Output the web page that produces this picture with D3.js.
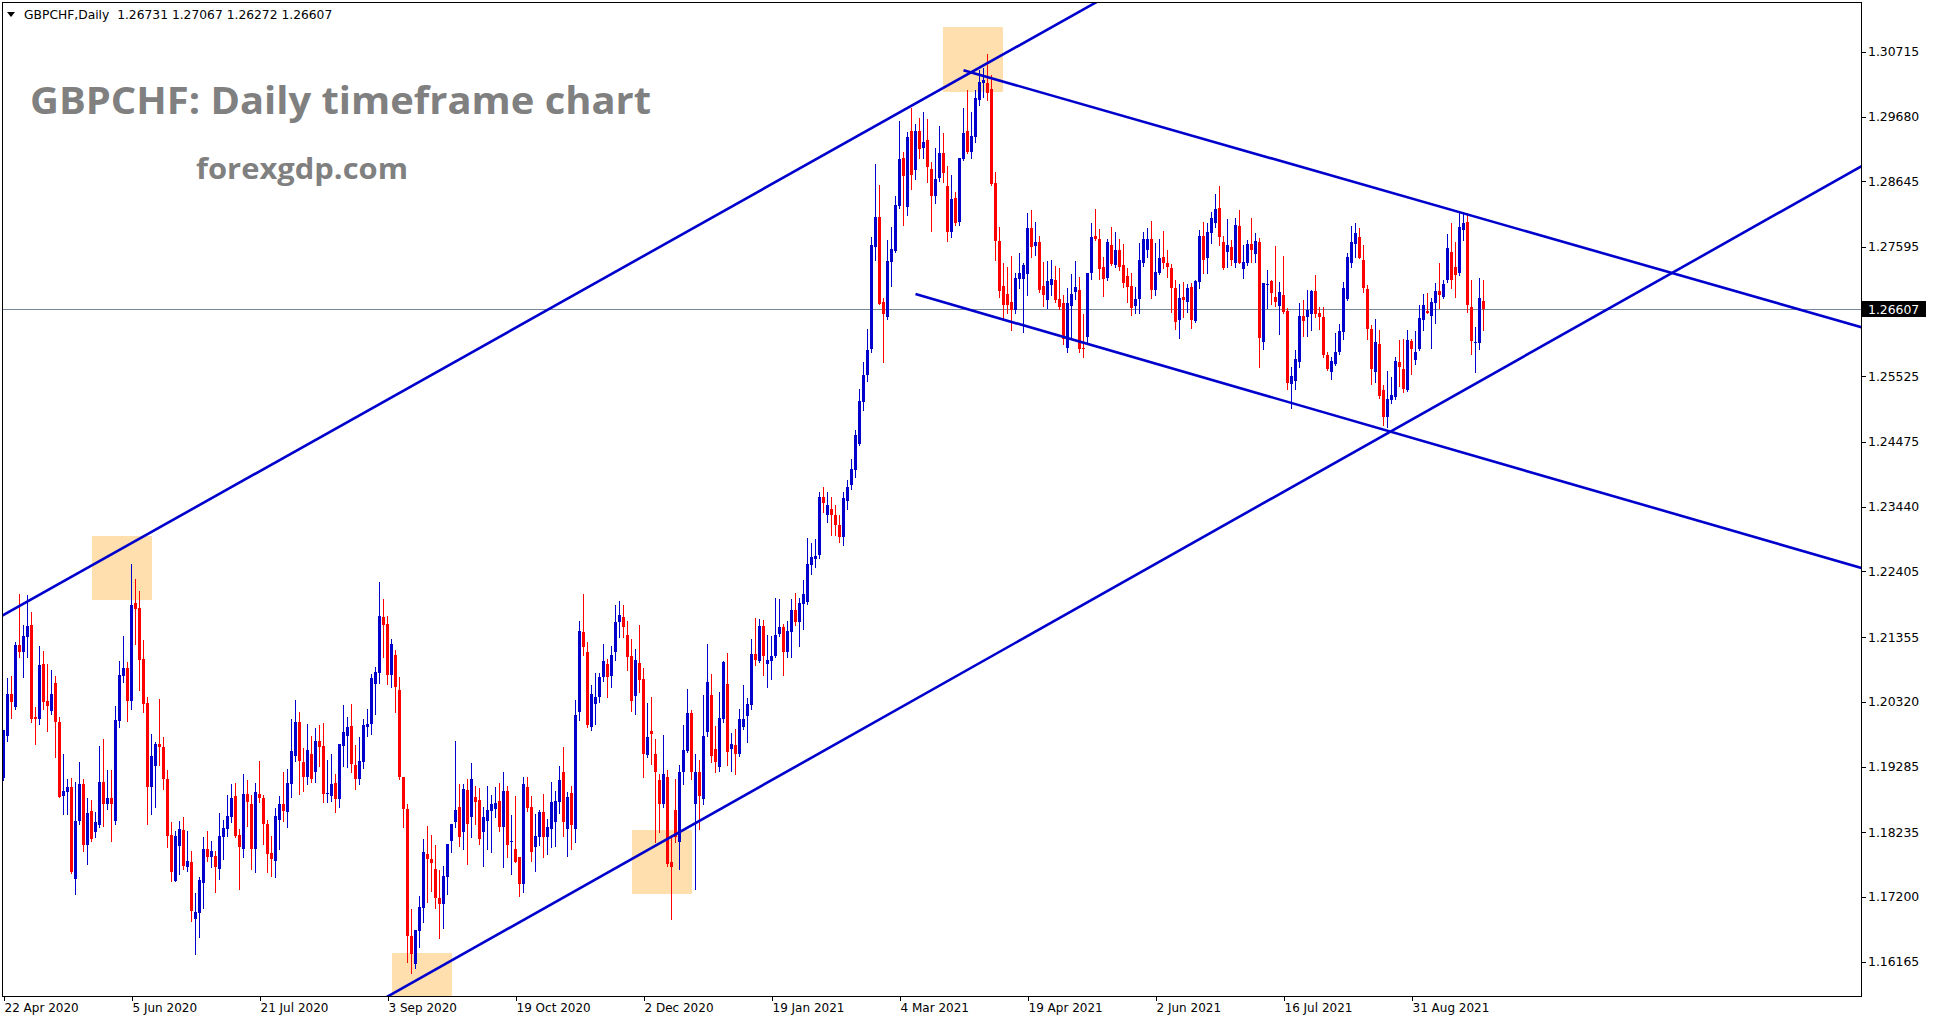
<!DOCTYPE html>
<html><head><meta charset="utf-8">
<script src="https://cdn.jsdelivr.net/npm/d3@7/dist/d3.min.js"></script>
<style>html,body{margin:0;padding:0;background:#fff;overflow:hidden}</style>
</head><body>
<svg id="chart" width="1933" height="1023"></svg>
<script>
// ---------- DATA ----------
const symbolHeader = "GBPCHF,Daily  1.26731 1.27067 1.26272 1.26607";
const titleText = "GBPCHF: Daily timeframe chart";
const siteText = "forexgdp.com";

const openP = [
1.1910,1.1978,1.2045,1.2024,1.2123,1.2112,1.2136,1.2155,1.2008,1.2004,
1.2093,1.2033,1.2018,1.2062,1.1999,1.1882,1.1887,1.1896,1.1748,1.1841,
1.1901,1.1803,1.1857,1.1823,1.1835,1.1904,1.1868,1.1878,1.1842,1.2002,
1.2074,1.2086,1.2034,1.2190,1.2182,1.2100,1.2030,1.1895,1.1930,1.1964,
1.1959,1.1908,1.1819,1.1746,1.1802,1.1827,1.1768,1.1776,1.1685,1.1695,
1.1743,1.1797,1.1783,1.1785,1.1765,1.1816,1.1829,1.1848,1.1881,1.1819,
1.1797,1.1885,1.1869,1.1797,1.1885,1.1878,1.1837,1.1790,1.1778,1.1843,
1.1869,1.1855,1.1901,1.1946,1.2000,1.1936,1.1911,1.1949,1.1920,1.1969,
1.1961,1.1884,1.1882,1.1902,1.1877,1.1962,1.1978,1.1993,1.1931,1.1909,
1.1935,1.1992,1.1997,1.2061,1.2078,1.2168,1.2156,1.2075,1.2107,1.2051,
1.1912,1.1861,1.1657,1.1612,1.1666,1.1703,1.1789,1.1781,1.1765,1.1718,
1.1708,1.1752,1.1810,1.1840,1.1864,1.1824,1.1891,1.1847,1.1880,1.1875,
1.1824,1.1842,1.1857,1.1860,1.1873,1.1831,1.1889,1.1807,1.1797,1.1783,
1.1740,1.1896,1.1864,1.1800,1.1815,1.1856,1.1816,1.1829,1.1840,1.1872,
1.1920,1.1829,1.1886,1.1829,1.2016,1.2143,1.2112,1.1992,1.2029,1.2039,
1.2071,1.2093,1.2074,1.2111,1.2159,1.2168,1.2139,1.2105,1.2042,1.2094,
1.2068,1.1947,1.1985,1.1949,1.1907,1.1868,1.1912,1.1775,1.1859,1.1807,
1.1919,1.1954,1.2014,1.1868,1.1920,1.1877,1.1984,1.2043,1.1957,1.1928,
1.2004,1.2060,1.1957,1.1963,1.1948,1.1992,1.2010,1.2027,1.2109,1.2098,
1.2153,1.2093,1.2098,1.2105,1.2141,1.2152,1.2111,1.2144,1.2179,1.2159,
1.2189,1.2192,1.2251,1.2260,1.2267,1.2360,1.2331,1.2340,1.2331,1.2315,
1.2295,1.2353,1.2379,1.2403,1.2444,1.2512,1.2555,1.2596,1.2760,1.2808,
1.2671,1.2648,1.2736,1.2753,1.2825,1.2901,1.2824,1.2945,1.2882,1.2945,
1.2917,1.2931,1.2884,1.2841,1.2870,1.2910,1.2857,1.2783,1.2837,1.2799,
1.2900,1.2945,1.2911,1.2936,1.2994,1.3021,1.3021,1.3012,1.2861,1.2769,
1.2697,1.2684,1.2671,1.2658,1.2708,1.2708,1.2716,1.2789,1.2761,1.2768,
1.2697,1.2675,1.2698,1.2707,1.2676,1.2669,1.2598,1.2665,1.2687,1.2691,
1.2598,1.2616,1.2717,1.2777,1.2772,1.2727,1.2709,1.2763,1.2731,1.2754,
1.2731,1.2713,1.2697,1.2665,1.2676,1.2734,1.2754,1.2772,1.2690,1.2718,
1.2743,1.2734,1.2726,1.2694,1.2643,1.2680,1.2672,1.2695,1.2641,1.2704,
1.2777,1.2742,1.2782,1.2797,1.2822,1.2768,1.2751,1.2760,1.2734,1.2793,
1.2724,1.2734,1.2764,1.2748,1.2767,1.2607,1.2698,1.2705,1.2680,1.2665,
1.2683,1.2657,1.2540,1.2545,1.2576,1.2649,1.2648,1.2652,1.2689,1.2653,
1.2647,1.2586,1.2559,1.2573,1.2591,1.2624,1.2676,1.2734,1.2764,1.2776,
1.2739,1.2692,1.2628,1.2560,1.2604,1.2530,1.2487,1.2515,1.2519,1.2576,
1.2565,1.2531,1.2609,1.2579,1.2596,1.2643,1.2657,1.2649,1.2670,1.2689,
1.2680,1.2706,1.2752,1.2728,1.2718,1.2787,1.2800,1.2664,1.2605,1.2605,
1.26731];

const highP = [
1.1987,1.2070,1.2073,1.2128,1.2205,1.2155,1.2203,1.2175,1.2024,1.2121,
1.2113,1.2092,1.2083,1.2073,1.2008,1.1949,1.1908,1.1910,1.1904,1.1936,
1.1908,1.1878,1.1875,1.1855,1.1961,1.1973,1.1923,1.1923,1.2025,1.2098,
1.2137,1.2096,1.2253,1.2229,1.2209,1.2131,1.2040,1.1980,1.1967,1.2037,
1.1975,1.1923,1.1840,1.1826,1.1841,1.1848,1.1826,1.1793,1.1727,1.1751,
1.1815,1.1825,1.1809,1.1793,1.1854,1.1843,1.1883,1.1901,1.1902,1.1829,
1.1917,1.1907,1.1883,1.1902,1.1937,1.1883,1.1843,1.1818,1.1862,1.1881,
1.1920,1.1925,1.2005,1.2035,1.2016,1.1958,1.1997,1.1978,1.1990,1.1995,
1.1998,1.1939,1.1948,1.1917,1.1965,1.2027,1.2008,1.2029,1.1963,1.1976,
1.2004,1.2020,1.2077,1.2088,1.2224,1.2196,1.2169,1.2132,1.2115,1.2072,
1.1912,1.1869,1.1700,1.1667,1.1721,1.1813,1.1833,1.1819,1.1803,1.1763,
1.1769,1.1805,1.1837,1.1969,1.1901,1.1901,1.1909,1.1934,1.1897,1.1894,
1.1864,1.1897,1.1883,1.1896,1.1902,1.1919,1.1897,1.1851,1.1881,1.1784,
1.1912,1.1912,1.1881,1.1853,1.1859,1.1885,1.1844,1.1904,1.1889,1.1929,
1.1960,1.1888,1.1897,1.2035,1.2161,1.2204,1.2128,1.2059,1.2078,1.2078,
1.2124,1.2100,1.2121,1.2187,1.2193,1.2187,1.2161,1.2132,1.2117,1.2155,
1.2086,1.2030,1.2040,1.1973,1.1917,1.1979,1.1923,1.1816,1.1909,1.1931,
1.1995,1.2053,1.2019,1.1949,1.1939,1.2043,1.2124,1.2077,1.1993,1.2048,
1.2097,1.2110,1.1982,1.1988,1.2020,1.2059,1.2038,1.2132,1.2166,1.2164,
1.2163,1.2139,1.2137,1.2198,1.2196,1.2156,1.2161,1.2197,1.2206,1.2198,
1.2227,1.2294,1.2286,1.2292,1.2368,1.2375,1.2368,1.2360,1.2346,1.2331,
1.2368,1.2387,1.2421,1.2467,1.2532,1.2576,1.2628,1.2776,1.2892,1.2858,
1.2677,1.2771,1.2791,1.2841,1.2961,1.2911,1.2943,1.2982,1.2956,1.2966,
1.2975,1.2964,1.2896,1.2918,1.2953,1.2942,1.2889,1.2875,1.2848,1.2901,
1.2982,1.3010,1.2975,1.3010,1.3042,1.3045,1.3068,1.3035,1.2880,1.2792,
1.2733,1.2728,1.2745,1.2717,1.2749,1.2733,1.2813,1.2819,1.2800,1.2777,
1.2736,1.2737,1.2738,1.2729,1.2726,1.2683,1.2694,1.2716,1.2737,1.2711,
1.2652,1.2717,1.2797,1.2820,1.2788,1.2744,1.2772,1.2792,1.2784,1.2772,
1.2764,1.2725,1.2718,1.2695,1.2766,1.2783,1.2789,1.2801,1.2766,1.2772,
1.2785,1.2754,1.2732,1.2707,1.2700,1.2703,1.2700,1.2702,1.2707,1.2787,
1.2799,1.2797,1.2816,1.2844,1.2857,1.2777,1.2804,1.2770,1.2805,1.2819,
1.2762,1.2771,1.2806,1.2781,1.2773,1.2701,1.2723,1.2707,1.2761,1.2704,
1.2745,1.2662,1.2568,1.2594,1.2669,1.2675,1.2691,1.2691,1.2714,1.2664,
1.2664,1.2591,1.2584,1.2621,1.2636,1.2704,1.2749,1.2793,1.2797,1.2789,
1.2763,1.2699,1.2635,1.2644,1.2627,1.2539,1.2561,1.2552,1.2584,1.2611,
1.2612,1.2626,1.2612,1.2625,1.2667,1.2684,1.2685,1.2677,1.2701,1.2733,
1.2707,1.2780,1.2797,1.2768,1.2813,1.2816,1.2813,1.2707,1.2632,1.2709,
1.27067];

const lowP = [
1.1907,1.1969,1.2006,1.2021,1.2104,1.2071,1.2104,1.1999,1.1964,1.1997,
1.2021,1.1986,1.2012,1.1943,1.1880,1.1853,1.1852,1.1758,1.1725,1.1837,
1.1794,1.1773,1.1810,1.1816,1.1832,1.1834,1.1860,1.1810,1.1836,1.1992,
1.2063,1.2002,1.2020,1.2125,1.2051,1.2016,1.1837,1.1852,1.1863,1.1931,
1.1892,1.1800,1.1746,1.1745,1.1757,1.1764,1.1762,1.1682,1.1629,1.1656,
1.1703,1.1778,1.1768,1.1728,1.1749,1.1781,1.1818,1.1840,1.1816,1.1732,
1.1784,1.1834,1.1765,1.1759,1.1872,1.1805,1.1760,1.1754,1.1752,1.1797,
1.1842,1.1832,1.1880,1.1937,1.1885,1.1890,1.1901,1.1903,1.1903,1.1930,
1.1871,1.1871,1.1874,1.1856,1.1864,1.1930,1.1928,1.1920,1.1892,1.1901,
1.1926,1.1978,1.1980,1.2012,1.2062,1.2103,1.2061,1.2056,1.2016,1.1909,
1.1831,1.1616,1.1599,1.1606,1.1640,1.1680,1.1712,1.1730,1.1703,1.1655,
1.1671,1.1724,1.1791,1.1832,1.1802,1.1797,1.1772,1.1816,1.1837,1.1805,
1.1770,1.1797,1.1791,1.1847,1.1826,1.1768,1.1784,1.1756,1.1775,1.1722,
1.1728,1.1858,1.1778,1.1762,1.1803,1.1783,1.1789,1.1800,1.1802,1.1854,
1.1818,1.1786,1.1797,1.1807,1.2003,1.2107,1.1992,1.1987,1.1997,1.2031,
1.2066,1.2039,1.2055,1.2099,1.2136,1.2136,1.2083,1.2018,1.2012,1.2047,
1.1912,1.1944,1.1933,1.1808,1.1823,1.1863,1.1770,1.1684,1.1808,1.1765,
1.1900,1.1951,1.1909,1.1733,1.1829,1.1869,1.1978,1.1936,1.1920,1.1922,
1.1999,1.1931,1.1922,1.1917,1.1946,1.1989,1.1968,1.2021,1.2091,1.2095,
1.2075,1.2055,1.2069,1.2103,1.2137,1.2075,1.2104,1.2104,1.2155,1.2122,
1.2148,1.2189,1.2237,1.2248,1.2262,1.2336,1.2320,1.2299,1.2299,1.2287,
1.2283,1.2340,1.2373,1.2392,1.2442,1.2499,1.2545,1.2592,1.2738,1.2668,
1.2576,1.2644,1.2697,1.2751,1.2821,1.2794,1.2810,1.2852,1.2868,1.2901,
1.2901,1.2863,1.2785,1.2829,1.2865,1.2864,1.2769,1.2775,1.2794,1.2794,
1.2898,1.2909,1.2901,1.2927,1.2986,1.2999,1.2995,1.2859,1.2738,1.2680,
1.2645,1.2653,1.2627,1.2653,1.2693,1.2624,1.2683,1.2744,1.2747,1.2688,
1.2665,1.2662,1.2683,1.2671,1.2660,1.2604,1.2591,1.2616,1.2676,1.2592,
1.2583,1.2605,1.2708,1.2771,1.2708,1.2681,1.2707,1.2731,1.2727,1.2723,
1.2695,1.2671,1.2651,1.2653,1.2654,1.2729,1.2744,1.2677,1.2683,1.2716,
1.2725,1.2712,1.2656,1.2628,1.2613,1.2648,1.2656,1.2630,1.2640,1.2694,
1.2718,1.2717,1.2765,1.2791,1.2763,1.2724,1.2728,1.2731,1.2728,1.2733,
1.2710,1.2731,1.2736,1.2736,1.2567,1.2597,1.2662,1.2668,1.2665,1.2620,
1.2653,1.2532,1.2502,1.2533,1.2568,1.2617,1.2617,1.2627,1.2647,1.2628,
1.2584,1.2563,1.2548,1.2571,1.2589,1.2612,1.2675,1.2728,1.2743,1.2741,
1.2687,1.2612,1.2541,1.2544,1.2518,1.2474,1.2471,1.2510,1.2516,1.2537,
1.2528,1.2529,1.2557,1.2573,1.2595,1.2626,1.2653,1.2598,1.2637,1.2661,
1.2677,1.2704,1.2693,1.2680,1.2715,1.2771,1.2656,1.2588,1.2560,1.2597,
1.26272];

const closeP = [
1.1987,1.2045,1.2031,1.2123,1.2112,1.2137,1.2153,1.2005,1.2005,1.2091,
1.2031,1.2026,1.2045,1.1999,1.1880,1.1889,1.1896,1.1760,1.1841,1.1901,
1.1803,1.1854,1.1813,1.1840,1.1904,1.1869,1.1878,1.1869,1.2003,1.2075,
1.2086,1.2034,1.2187,1.2180,1.2099,1.2029,1.1895,1.1945,1.1964,1.1959,
1.1908,1.1818,1.1760,1.1818,1.1829,1.1770,1.1777,1.1698,1.1696,1.1747,
1.1797,1.1783,1.1793,1.1767,1.1817,1.1830,1.1849,1.1878,1.1818,1.1799,
1.1885,1.1871,1.1796,1.1888,1.1878,1.1837,1.1789,1.1780,1.1849,1.1869,
1.1857,1.1902,1.1953,1.2000,1.1938,1.1911,1.1955,1.1909,1.1969,1.1960,
1.1885,1.1886,1.1901,1.1877,1.1965,1.1984,1.1992,1.1933,1.1909,1.1937,
1.1995,1.1997,1.2070,1.2080,1.2169,1.2155,1.2075,1.2124,1.2056,1.1911,
1.1860,1.1657,1.1629,1.1667,1.1704,1.1792,1.1781,1.1774,1.1719,1.1708,
1.1753,1.1805,1.1837,1.1859,1.1816,1.1893,1.1837,1.1909,1.1872,1.1813,
1.1847,1.1859,1.1869,1.1870,1.1831,1.1889,1.1803,1.1810,1.1776,1.1740,
1.1901,1.1862,1.1791,1.1817,1.1856,1.1815,1.1831,1.1872,1.1873,1.1907,
1.1840,1.1880,1.1835,1.2011,1.2145,1.2119,1.1995,1.2045,1.2040,1.2072,
1.2097,1.2072,1.2107,1.2160,1.2171,1.2152,1.2103,1.2034,1.2099,1.2067,
1.1949,1.1976,1.1981,1.1920,1.1869,1.1917,1.1772,1.1767,1.1816,1.1920,
1.1955,1.2014,1.1920,1.1920,1.1882,1.1978,1.2064,1.1946,1.1936,1.2006,
1.2096,1.1951,1.1965,1.1948,1.2005,1.2005,1.2029,1.2109,1.2099,1.2153,
1.2106,1.2099,1.2105,1.2139,1.2152,1.2111,1.2145,1.2179,1.2159,1.2190,
1.2204,1.2252,1.2264,1.2265,1.2360,1.2350,1.2346,1.2331,1.2315,1.2296,
1.2358,1.2376,1.2404,1.2459,1.2513,1.2555,1.2594,1.2763,1.2808,1.2668,
1.2652,1.2737,1.2756,1.2826,1.2900,1.2873,1.2936,1.2874,1.2945,1.2916,
1.2927,1.2887,1.2841,1.2868,1.2909,1.2877,1.2783,1.2836,1.2797,1.2901,
1.2941,1.2911,1.2937,1.2998,1.3023,1.3026,1.3005,1.2860,1.2769,1.2689,
1.2667,1.2667,1.2659,1.2710,1.2717,1.2731,1.2789,1.2760,1.2768,1.2691,
1.2683,1.2705,1.2708,1.2674,1.2663,1.2612,1.2669,1.2684,1.2696,1.2597,
1.2596,1.2717,1.2775,1.2772,1.2724,1.2708,1.2768,1.2732,1.2754,1.2727,
1.2702,1.2695,1.2661,1.2676,1.2738,1.2772,1.2772,1.2690,1.2720,1.2742,
1.2734,1.2728,1.2693,1.2640,1.2678,1.2675,1.2694,1.2642,1.2705,1.2777,
1.2739,1.2783,1.2805,1.2820,1.2776,1.2725,1.2763,1.2738,1.2795,1.2734,
1.2735,1.2764,1.2754,1.2769,1.2614,1.2701,1.2700,1.2686,1.2671,1.2688,
1.2655,1.2542,1.2553,1.2580,1.2649,1.2641,1.2659,1.2689,1.2652,1.2647,
1.2587,1.2565,1.2577,1.2591,1.2625,1.2694,1.2744,1.2767,1.2781,1.2742,
1.2693,1.2628,1.2564,1.2607,1.2521,1.2488,1.2516,1.2523,1.2577,1.2568,
1.2532,1.2611,1.2597,1.2592,1.2645,1.2667,1.2654,1.2671,1.2689,1.2682,
1.2700,1.2758,1.2707,1.2715,1.2792,1.2798,1.2667,1.2609,1.2608,1.2678,
1.26607];

// date tick labels, one every 32 bars starting at bar 0
const dateLabels = ["22 Apr 2020","5 Jun 2020","21 Jul 2020","3 Sep 2020","19 Oct 2020","2 Dec 2020",
                    "19 Jan 2021","4 Mar 2021","19 Apr 2021","2 Jun 2021","16 Jul 2021","31 Aug 2021"];
const dateLabelStep = 32;

// price scale labels
const priceLabels = [1.30715,1.29680,1.28645,1.27595,1.25525,1.24475,1.23440,1.22405,
                     1.21355,1.20320,1.19285,1.18235,1.17200,1.16165];
const lastPrice = 1.26607;

// trend lines: two anchor points (bar index, price); ext: "both" or "right"
const trendBars   = [[0, 254], [100, 370], [240, 370], [228, 370]];
const trendPrices = [[1.2171, 1.3082], [1.1575, 1.2548], [1.3042, 1.2804], [1.2684, 1.2421]];
const trendExt    = ["both", "both", "right", "right"];

// highlighted zones: bar range and price range
const zoneBars   = [[22, 37], [235, 250], [157, 172], [97, 112]];
const zonePrices = [[1.2297, 1.2194], [1.3111, 1.3007], [1.1827, 1.1725], [1.1631, 1.1500]];

// ---------- DRAWING ----------
const W = 1933, H = 1023;
const plot = {x0: 2, y0: 2, x1: 1861, y1: 996};
const svg = d3.select("#chart");

const x = d3.scaleLinear().domain([0, 370]).range([3.5, 1483.5]);
const y = d3.scaleLinear().domain([1.16165, 1.30715]).range([961.6, 51.8]);

const BULL = "#0000CD", BEAR = "#FF0000", LINE = "#0000CD", ZONE = "#FFDFAE";

svg.append("rect").attr("width", W).attr("height", H).attr("fill", "#fff");

svg.append("defs").append("clipPath").attr("id", "pc")
  .append("rect").attr("x", plot.x0).attr("y", plot.y0)
  .attr("width", plot.x1 - plot.x0).attr("height", plot.y1 - plot.y0);

const g = svg.append("g").attr("clip-path", "url(#pc)");

// zones
g.selectAll("rect.zone").data(zoneBars.map((b, i) => ({b, p: zonePrices[i]})))
  .join("rect").attr("class", "zone")
  .attr("x", d => Math.round(x(d.b[0])))
  .attr("width", d => Math.round(x(d.b[1]) - x(d.b[0])))
  .attr("y", d => Math.round(y(d.p[0])))
  .attr("height", d => Math.round(y(d.p[1]) - y(d.p[0])))
  .attr("fill", ZONE);

// last price line
g.append("line").attr("x1", plot.x0).attr("x2", plot.x1)
  .attr("y1", Math.round(y(lastPrice)) + 0.5).attr("y2", Math.round(y(lastPrice)) + 0.5)
  .attr("stroke", "#778899").attr("stroke-width", 1).attr("shape-rendering", "crispEdges");

// candles
const bars = d3.range(openP.length).map(i => ({i, o: openP[i], h: highP[i], l: lowP[i], c: closeP[i]}));
const cg = g.append("g").attr("shape-rendering", "crispEdges");
const cand = cg.selectAll("g.c").data(bars).join("g").attr("class", "c");
cand.append("rect")
  .attr("x", d => Math.round(x(d.i) - 0.5)).attr("width", 1)
  .attr("y", d => Math.round(y(d.h)))
  .attr("height", d => Math.max(1, Math.round(y(d.l)) - Math.round(y(d.h)) + 1))
  .attr("fill", d => d.c > d.o ? BULL : BEAR);
cand.append("rect")
  .attr("x", d => Math.round(x(d.i) - 1.5)).attr("width", 3)
  .attr("y", d => Math.round(y(Math.max(d.o, d.c))))
  .attr("height", d => Math.max(1, Math.round(y(Math.min(d.o, d.c))) - Math.round(y(Math.max(d.o, d.c)))))
  .attr("fill", d => d.c > d.o ? BULL : BEAR);

// trend lines (extended as rays through their two anchors)
const tl = trendBars.map((b, k) => {
  const p = trendPrices[k];
  const slope = (p[1] - p[0]) / (b[1] - b[0]);
  const bStart = trendExt[k] === "both" ? -10 : b[0];
  const bEnd = 480;
  return {b0: bStart, p0: p[0] + slope * (bStart - b[0]), b1: bEnd, p1: p[0] + slope * (bEnd - b[0])};
});
g.selectAll("line.tl").data(tl).join("line").attr("class", "tl")
  .attr("x1", d => x(d.b0)).attr("y1", d => y(d.p0))
  .attr("x2", d => x(d.b1)).attr("y2", d => y(d.p1))
  .attr("stroke", LINE).attr("stroke-width", 2.6);

// frame
svg.append("rect").attr("x", plot.x0 + 0.5).attr("y", plot.y0 + 0.5)
  .attr("width", plot.x1 - plot.x0).attr("height", plot.y1 - plot.y0)
  .attr("fill", "none").attr("stroke", "#000").attr("stroke-width", 1)
  .attr("shape-rendering", "crispEdges");

// price axis
const pa = svg.append("g").attr("font-family", "DejaVu Sans, Verdana, sans-serif").attr("font-size", 12.4);
pa.selectAll("line").data(priceLabels).join("line")
  .attr("x1", plot.x1 + 1).attr("x2", plot.x1 + 5)
  .attr("y1", d => Math.round(y(d)) + 0.5).attr("y2", d => Math.round(y(d)) + 0.5)
  .attr("stroke", "#000").attr("shape-rendering", "crispEdges");
pa.selectAll("text").data(priceLabels).join("text")
  .attr("x", plot.x1 + 7).attr("y", d => y(d) + 4.5)
  .attr("fill", "#000").text(d => d.toFixed(5));
// current price tag
const ly = Math.round(y(lastPrice));
pa.append("rect").attr("x", plot.x1 + 1).attr("y", ly - 8).attr("width", 64).attr("height", 16).attr("fill", "#000");
pa.append("text").attr("x", plot.x1 + 7).attr("y", ly + 4.5).attr("fill", "#fff").text(lastPrice.toFixed(5));

// time axis
const ta = svg.append("g").attr("font-family", "DejaVu Sans, Verdana, sans-serif").attr("font-size", 12);
const dl = dateLabels.map((t, k) => ({t, b: k * dateLabelStep}));
ta.selectAll("line").data(dl).join("line")
  .attr("x1", d => Math.round(x(d.b)) + 0.5).attr("x2", d => Math.round(x(d.b)) + 0.5)
  .attr("y1", plot.y1 + 1).attr("y2", plot.y1 + 5)
  .attr("stroke", "#000").attr("shape-rendering", "crispEdges");
ta.selectAll("text").data(dl).join("text")
  .attr("x", d => x(d.b) + 1).attr("y", plot.y1 + 16)
  .attr("fill", "#000").text(d => d.t);

// header
svg.append("path").attr("d", "M7,12 L15,12 L11,17 Z").attr("fill", "#000");
svg.append("text").attr("x", 24).attr("y", 19)
  .attr("font-family", "DejaVu Sans, Verdana, sans-serif").attr("font-size", 12.3)
  .style("white-space", "pre").attr("fill", "#000").text(symbolHeader);

// watermark titles
svg.append("text").attr("x", 30).attr("y", 114)
  .attr("font-family", "Open Sans, sans-serif").attr("font-weight", 700).attr("font-size", 37)
  .attr("textLength", 621).attr("lengthAdjust", "spacingAndGlyphs")
  .attr("fill", "#808080").text(titleText);
svg.append("text").attr("x", 196).attr("y", 179)
  .attr("font-family", "Open Sans, sans-serif").attr("font-weight", 700).attr("font-size", 29)
  .attr("textLength", 212).attr("lengthAdjust", "spacingAndGlyphs")
  .attr("fill", "#808080").text(siteText);
</script>
</body></html>
